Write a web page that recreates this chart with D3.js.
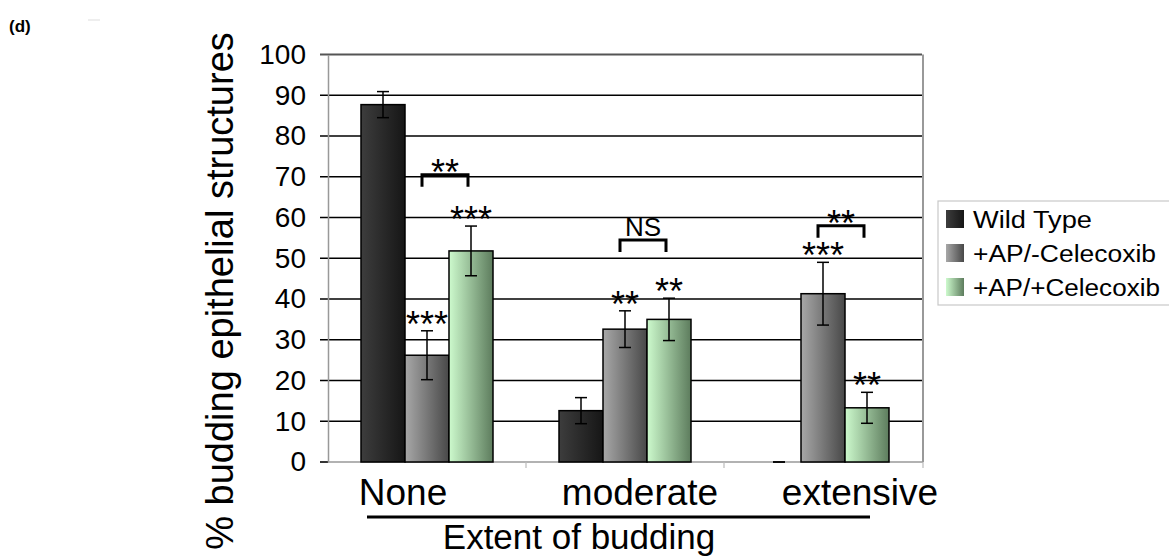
<!DOCTYPE html>
<html>
<head>
<meta charset="utf-8">
<script src="https://cdn.jsdelivr.net/npm/d3@7"></script>
<style>
  body { margin: 0; background: #fff; }
  text { font-family: "Liberation Sans", Arial, sans-serif; fill: #000; }
</style>
</head>
<body>
<svg id="chart" width="1169" height="557"></svg>
<script>

// data
var categories = ["None", "moderate", "extensive"];
var seriesNames = ["Wild Type", "+AP/-Celecoxib", "+AP/+Celecoxib"];
var wildTypeVals = [87.7, 12.6, 0];
var wildTypeErr  = [3.2, 3.2, 0];
var apVals = [26.2, 32.6, 41.3];
var apErr  = [6.0, 4.5, 7.7];
var celVals = [51.8, 35.0, 13.3];
var celErr  = [6.1, 5.2, 3.8];
var yTicks = [0, 10, 20, 30, 40, 50, 60, 70, 80, 90, 100];

// significance marks above single bars
var starCats   = ["None", "None", "moderate", "moderate", "extensive", "extensive"];
var starSeries = ["+AP/-Celecoxib", "+AP/+Celecoxib", "+AP/-Celecoxib", "+AP/+Celecoxib", "+AP/-Celecoxib", "+AP/+Celecoxib"];
var starText   = ["***", "***", "**", "**", "***", "**"];

// brackets between the two treated groups
var bracketCats   = ["None", "moderate", "extensive"];
var bracketLevels = [70.5, 54.5, 58];
var bracketText   = ["**", "NS", "**"];

var allVals = [wildTypeVals, apVals, celVals];
var allErr  = [wildTypeErr, apErr, celErr];

var svg = d3.select("#chart");
var pLeft = 328, pRight = 922, pTop = 54.5, pBottom = 462;

var x = d3.scaleBand().domain(categories).range([pLeft, pRight]);
var xSub = d3.scaleBand().domain(seriesNames).range([33, x.bandwidth() - 33]);
var y = d3.scaleLinear().domain([0, 100]).range([pBottom, pTop]);

// gradients for the bars
var grads = [["#3d3d3d", "#161616"], ["#a8a8a8", "#484848"], ["#cdfacd", "#5d7c5d"]];
var defs = svg.append("defs");
grads.forEach(function(g, i) {
    var lgr = defs.append("linearGradient").attr("id", "grad" + i)
        .attr("x1", "0%").attr("x2", "100%").attr("y1", "0%").attr("y2", "0%");
    lgr.append("stop").attr("offset", "0%").attr("stop-color", g[0]);
    lgr.append("stop").attr("offset", "100%").attr("stop-color", g[1]);
});

// panel letter
svg.append("text").attr("x", 9).attr("y", 32)
    .attr("font-size", "17px").attr("font-weight", "bold").text("(d)");
svg.append("line").attr("x1", 88).attr("x2", 100).attr("y1", 20).attr("y2", 20)
    .attr("stroke", "#ddd");

// gridlines + tick stubs
svg.append("g").selectAll("line").data(yTicks).enter().append("line")
    .attr("x1", pLeft - 8).attr("x2", pRight)
    .attr("y1", function(d) { return y(d); })
    .attr("y2", function(d) { return y(d); })
    .attr("stroke", function(d) { return d == 100 ? "#555" : "#000"; })
    .attr("stroke-width", function(d) { return d == 0 ? 0 : (d == 100 ? 2.2 : 1.6); });
svg.append("line").attr("x1", pLeft - 8).attr("x2", pLeft).attr("y1", y(0)).attr("y2", y(0))
    .attr("stroke", "#000").attr("stroke-width", 1.6);

// y axis with labels
var yAxis = svg.append("g")
    .attr("transform", "translate(" + pLeft + ",0)")
    .call(d3.axisLeft(y).tickValues(yTicks).tickSize(0).tickPadding(22));
yAxis.select(".domain").attr("stroke", "#999").attr("stroke-width", 1.5);
yAxis.selectAll("text").attr("font-size", "28px").attr("font-family", "Liberation Sans, Arial, sans-serif");

// right border
svg.append("line").attr("x1", pRight + 1).attr("x2", pRight + 1).attr("y1", pTop).attr("y2", pBottom)
    .attr("stroke", "#999").attr("stroke-width", 2);

// x axis (no labels, just line and boundary ticks)
var xAxis = svg.append("g")
    .attr("transform", "translate(0," + pBottom + ")");
xAxis.append("line").attr("x1", pLeft).attr("x2", pRight + 1).attr("y1", 0).attr("y2", 0)
    .attr("stroke", "#999").attr("stroke-width", 1.5);
xAxis.selectAll("line.tk").data(categories.slice(1).concat(["end"])).enter().append("line")
    .attr("class", "tk")
    .attr("x1", function(d) { return d == "end" ? pRight + 1 : x(d); })
    .attr("x2", function(d) { return d == "end" ? pRight + 1 : x(d); })
    .attr("y1", 0).attr("y2", 6)
    .attr("stroke", "#bbb").attr("stroke-width", 1.2);

// bars
seriesNames.forEach(function(s, si) {
    var g = svg.append("g");
    var rows = categories.map(function(c, ci) {
        return {cat: c, v: allVals[si][ci], e: allErr[si][ci]};
    });
    g.selectAll("rect").data(rows).enter().append("rect")
        .attr("x", function(d) { return x(d.cat) + xSub(s); })
        .attr("y", function(d) { return y(d.v); })
        .attr("width", xSub.bandwidth())
        .attr("height", function(d) { return y(0) - y(d.v); })
        .attr("fill", "url(#grad" + si + ")")
        .attr("stroke", "#000").attr("stroke-width", 1.5);

    // error bars
    var cx = function(d) { return x(d.cat) + xSub(s) + xSub.bandwidth() / 2; };
    g.selectAll("line.eb").data(rows).enter().append("line").attr("class", "eb")
        .attr("x1", cx).attr("x2", cx)
        .attr("y1", function(d) { return y(d.v + d.e); })
        .attr("y2", function(d) { return y(d.v - d.e); })
        .attr("stroke", "#000").attr("stroke-width", 1.5);
    ["t", "b"].forEach(function(side) {
        g.selectAll("line.cap" + side).data(rows).enter().append("line")
            .attr("class", "cap" + side)
            .attr("x1", function(d) { return cx(d) - 6; })
            .attr("x2", function(d) { return cx(d) + 6; })
            .attr("y1", function(d) { return y(side == "t" ? d.v + d.e : d.v - d.e); })
            .attr("y2", function(d) { return y(side == "t" ? d.v + d.e : d.v - d.e); })
            .attr("stroke", "#000").attr("stroke-width", 1.5);
    });
});

// stars above bars
var starFont = 36;
starText.forEach(function(t, i) {
    var si = seriesNames.indexOf(starSeries[i]);
    var ci = categories.indexOf(starCats[i]);
    var errTop = allVals[si][ci] + allErr[si][ci];
    svg.append("text")
        .attr("x", x(starCats[i]) + xSub(starSeries[i]) + xSub.bandwidth() / 2)
        .attr("y", y(errTop) - 15 + starFont * 0.58)
        .attr("text-anchor", "middle")
        .attr("font-size", starFont + "px")
        .text(t);
});

// brackets
bracketCats.forEach(function(c, i) {
    var x1 = x(c) + xSub(seriesNames[1]) + xSub.bandwidth() / 2 - 5;
    var x2 = x(c) + xSub(seriesNames[2]) + xSub.bandwidth() / 2 - 3;
    var yb = y(bracketLevels[i]);
    svg.append("path")
        .attr("d", "M" + x1 + "," + (yb + 12) + "V" + yb + "H" + x2 + "V" + (yb + 12))
        .attr("fill", "none").attr("stroke", "#000").attr("stroke-width", 3);
    var lbl = svg.append("text")
        .attr("x", (x1 + x2) / 2)
        .attr("text-anchor", "middle")
        .text(bracketText[i]);
    if (bracketText[i] == "NS") {
        lbl.attr("y", yb - 4).attr("font-size", "26px");
    } else {
        lbl.attr("y", yb - 11 + starFont * 0.58).attr("font-size", starFont + "px");
    }
});

// category labels (they sit a bit off the band centres in the figure)
var catShift = [-24, 15, 37];
svg.append("g").selectAll("text").data(categories).enter().append("text")
    .attr("x", function(d, i) { return x(d) + x.bandwidth() / 2 + catShift[i]; })
    .attr("y", 505)
    .attr("text-anchor", "middle")
    .attr("font-size", "37px")
    .text(function(d) { return d; });

svg.append("line").attr("x1", 367).attr("x2", 870).attr("y1", 517).attr("y2", 517)
    .attr("stroke", "#000").attr("stroke-width", 3);

svg.append("text").attr("x", 579).attr("y", 549)
    .attr("text-anchor", "middle").attr("font-size", "35px")
    .text("Extent of budding");

// y title
svg.append("text")
    .attr("transform", "translate(233,291) rotate(-90)")
    .attr("text-anchor", "middle")
    .attr("font-size", "38px")
    .text("% budding epithelial structures");

// legend
var lg = svg.append("g");
lg.append("rect").attr("x", 938).attr("y", 201).attr("width", 232).attr("height", 104)
    .attr("fill", "#fff").attr("stroke", "#c8c8c8").attr("stroke-width", 1.2);
var legW = [119, 183, 187];
seriesNames.forEach(function(s, i) {
    var cy = 219 + i * 34;
    lg.append("rect").attr("x", 946).attr("y", cy - 9).attr("width", 18).attr("height", 18)
        .attr("fill", "url(#grad" + i + ")");
    lg.append("text").attr("x", 973).attr("y", cy + 8.5)
        .attr("font-size", "23px")
        .attr("textLength", legW[i]).attr("lengthAdjust", "spacingAndGlyphs")
        .text(s);
});

</script>
</body>
</html>
